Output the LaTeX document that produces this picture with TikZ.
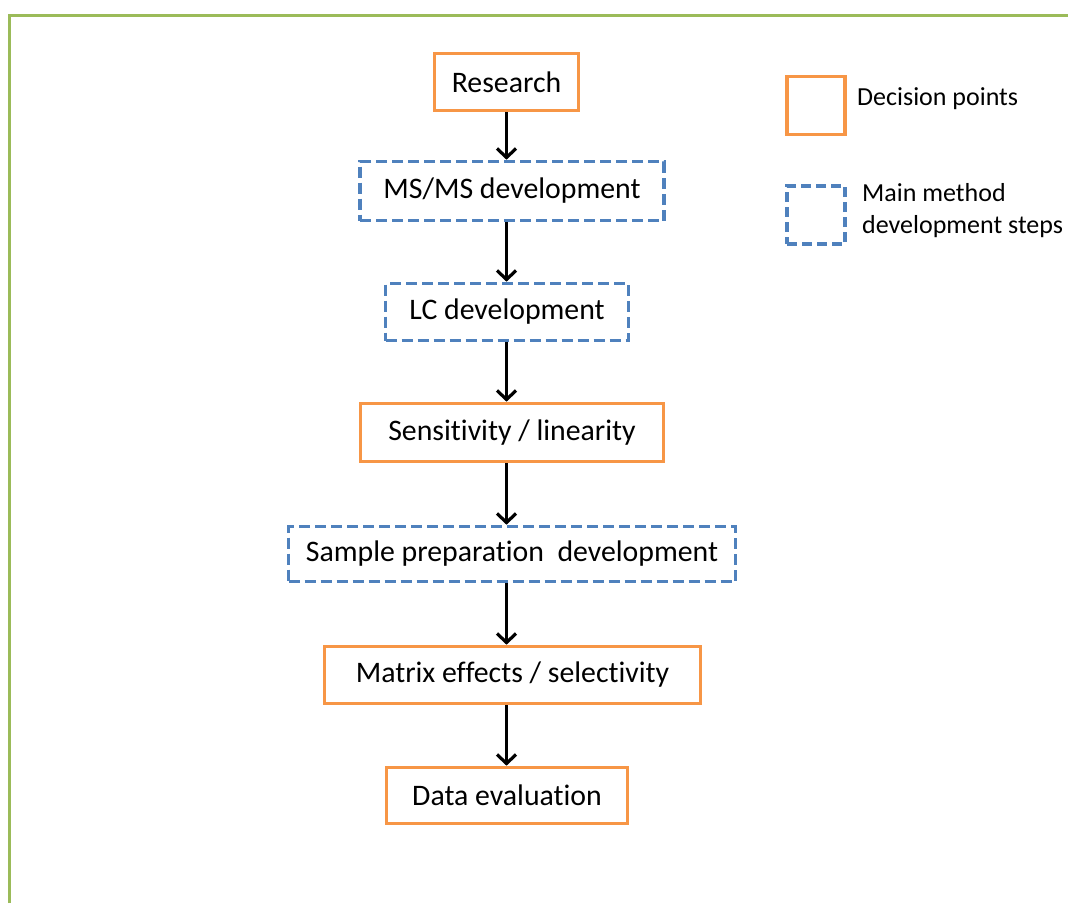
\documentclass[tikz,border=0pt]{standalone}
\usepackage{fontspec}
\setmainfont{Carlito}[Ligatures={NoCommon}]
\usetikzlibrary{arrows.meta}
\definecolor{officeorange}{HTML}{F79646}
\definecolor{officeblue}{HTML}{4F81BD}
\definecolor{officegreen}{HTML}{9BBB59}

\begin{document}
\begin{tikzpicture}[x=1pt, y=-1pt,
	every node/.style={font=\fontsize{29.8}{33}\selectfont, inner sep=0pt},
	decision/.style={draw=officeorange, line width=3.6pt, minimum height=57pt},
	devstep/.style={draw=officeblue, line width=3.6pt, dash pattern=on 11pt off 5pt, minimum height=57pt},
	>={Straight Barb[length=9pt, width=19pt]}]
	\useasboundingbox (0,0) rectangle (1068,903);
	\draw[officegreen, line width=3.6pt] (9.5,903) -- (9.5,15.5) -- (1068,15.5);
	% main flow
	\node[decision, minimum width=144pt] (research) at (506.5,82) {Research};
	\node[devstep, minimum width=304pt, minimum height=59pt] (msms) at (512,191) {MS/MS\ development};
	\node[devstep, minimum width=243pt] (lc) at (507,312) {LC development};
	\node[decision, minimum width=303pt, minimum height=58pt] (sens) at (512,432.5) {Sensitivity / linearity};
	\node[devstep, minimum width=447pt, minimum height=55pt] (sample) at (512,554) {Sample preparation\ \ development};
	\node[decision, minimum width=376pt] (matrix) at (512.5,675) {Matrix effects / selectivity};
	\node[decision, minimum width=241pt, minimum height=56pt] (data) at (507,795.5) {Data evaluation};
	\foreach \a/\b in {research/msms, msms/lc, lc/sens, sens/sample, sample/matrix, matrix/data}
		\draw[->, line width=3.2pt] (\a.south -| research) -- (\b.north -| research);
	% legend
	\node[decision, minimum width=58pt, minimum height=58pt] (decisionkey) at (816,105.5) {};
	\node[devstep, minimum width=58pt, minimum height=58pt, dash pattern=on 10pt off 5pt] (devkey) at (816,215) {};
	\node[anchor=west, font=\fontsize{26}{32}\selectfont] (decisiontext) at (857,99) {Decision points};
	\node[anchor=west, align=left, font=\fontsize{26}{32}\selectfont] (devtext) at (862,211) {Main method\\development steps};
\end{tikzpicture}
\end{document}
